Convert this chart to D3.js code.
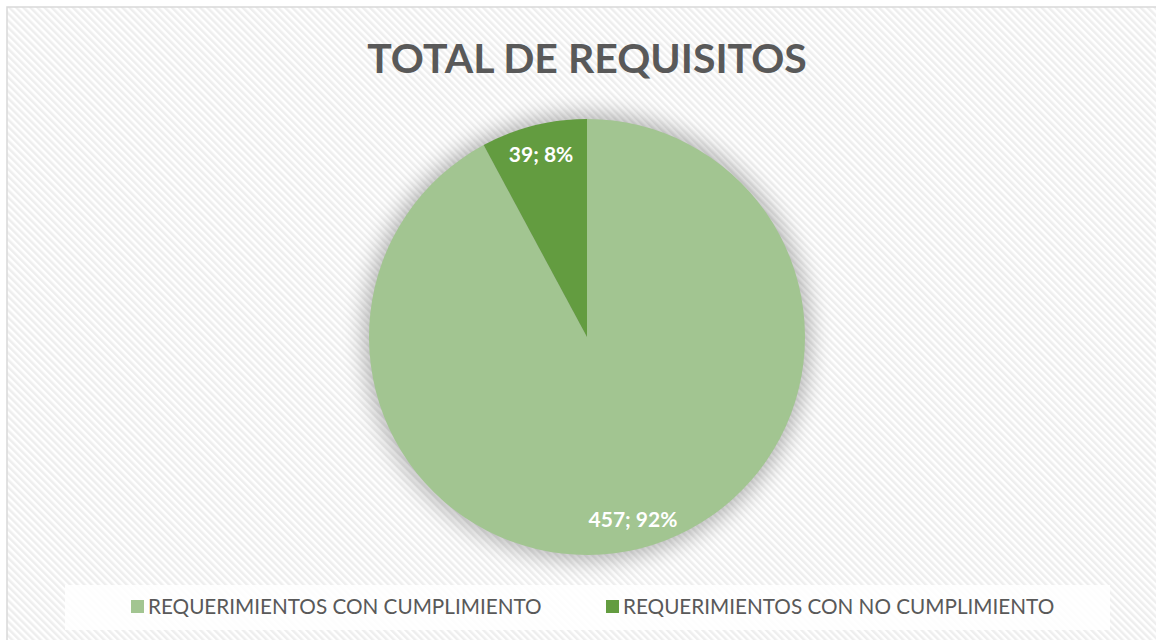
<!DOCTYPE html>
<head>
  <meta charset="utf-8">
  <script src="https://d3js.org/d3.v7.min.js"></script>
  <style>
    body { margin: 0; background: #fff; }
    svg { display: block; }
  </style>
</head>
<body>
  <svg width="1156" height="640"></svg>
  <script>
    // data
    var categories = ["REQUERIMIENTOS CON CUMPLIMIENTO", "REQUERIMIENTOS CON NO CUMPLIMIENTO"];
    var values = [457, 39];
    var percents = ["92%", "8%"];
    var colors = ["#a2c591", "#639c40"];
    var title = "TOTAL DE REQUISITOS";

    // options
    var width = 1156, height = 640;
    var cx = 587, cy = 337, radius = 218;

    var svg = d3.select('svg');
    var defs = svg.append('defs');

    // striped background
    var pat = defs.append('pattern')
      .attr('id', 'stripes')
      .attr('patternUnits', 'userSpaceOnUse')
      .attr('width', 5).attr('height', 5)
      .attr('patternTransform', 'rotate(-45)');
    pat.append('rect').attr('width', 5).attr('height', 5).attr('fill', '#ffffff');
    pat.append('rect').attr('width', 2.5).attr('height', 5).attr('fill', '#eeeeee');

    var shadow = defs.append('filter')
      .attr('id', 'shadow')
      .attr('x', '-30%').attr('y', '-30%').attr('width', '160%').attr('height', '160%');
    shadow.append('feGaussianBlur').attr('stdDeviation', 11);

    svg.append('rect')
      .attr('x', 7).attr('y', 7)
      .attr('width', width).attr('height', height)
      .attr('fill', 'url(#stripes)')
      .attr('stroke', '#d9d9d9')
      .attr('stroke-width', 1.5);

    // title
    svg.append('text')
      .attr('x', cx).attr('y', 73)
      .attr('text-anchor', 'middle')
      .style('font-family', 'Lato, "Open Sans", sans-serif')
      .style('font-weight', 'bold')
      .style('font-size', '41px')
      .attr('fill', '#595959')
      .text(title);

    // pie
    var pie = d3.pie().sort(null).value(function(d){ return d; });
    var arcs = pie(values);
    var arc = d3.arc().innerRadius(0).outerRadius(radius);
    var labelArc = d3.arc().innerRadius(188).outerRadius(188);

    var g = svg.append('g').attr('transform', 'translate(' + [cx, cy] + ')');

    g.append('circle')
      .attr('r', radius + 5)
      .attr('fill', '#000')
      .attr('opacity', 0.28)
      .attr('filter', 'url(#shadow)');

    g.selectAll('path.slice')
      .data(arcs)
      .enter().append('path')
      .attr('class', 'slice')
      .attr('d', arc)
      .attr('fill', function(d, i){ return colors[i]; });

    g.selectAll('text.lbl')
      .data(arcs)
      .enter().append('text')
      .attr('class', 'lbl')
      .attr('transform', function(d){ return 'translate(' + labelArc.centroid(d) + ')'; })
      .attr('text-anchor', 'middle')
      .attr('dy', '0.36em')
      .style('font-family', 'Lato, "Open Sans", sans-serif')
      .style('font-weight', 'bold')
      .style('font-size', '21px')
      .attr('fill', '#ffffff')
      .text(function(d, i){ return values[i] + '; ' + percents[i]; });

    // legend
    svg.append('rect')
      .attr('x', 65).attr('y', 585)
      .attr('width', 1045).attr('height', 45)
      .attr('fill', '#ffffff')
      .attr('opacity', 0.85);

    var legendX = [131, 606];
    var leg = svg.selectAll('g.leg')
      .data(categories)
      .enter().append('g')
      .attr('class', 'leg')
      .attr('transform', function(d, i){ return 'translate(' + [legendX[i], 600] + ')'; });
    leg.append('rect')
      .attr('width', 13).attr('height', 13)
      .attr('fill', function(d, i){ return colors[i]; });
    leg.append('text')
      .attr('x', 17).attr('y', 14)
      .style('font-family', 'Lato, "Open Sans", sans-serif')
      .style('font-size', '20.7px')
      .attr('fill', '#595959')
      .text(function(d){ return d; });
  </script>
</body>
